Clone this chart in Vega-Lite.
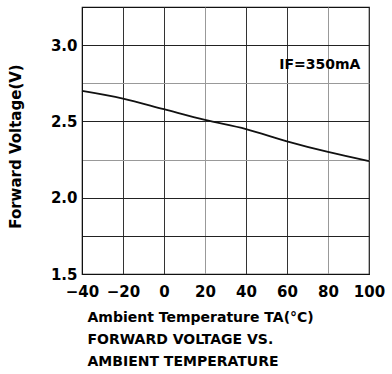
{
  "$schema": "https://vega.github.io/schema/vega-lite/v6.json",
  "width": 287,
  "height": 267,
  "autosize": {"type": "none"},
  "padding": {"left": 82, "top": 7, "right": 23, "bottom": 100},
  "background": "white",
  "config": {
    "font": "DejaVu Sans",
    "view": {"stroke": "#111", "strokeWidth": 1.2},
    "axis": {
      "labelFont": "DejaVu Sans",
      "labelFontWeight": "bold",
      "labelFontSize": 15,
      "labelColor": "#000",
      "titleFont": "DejaVu Sans",
      "titleFontWeight": "bold",
      "titleColor": "#000",
      "ticks": false,
      "domainColor": "#111",
      "gridOpacity": 1,
      "gridWidth": 1
    }
  },
  "layer": [
    {
      "data": {
        "values": [
          {"ta": -40, "vf": 2.70},
          {"ta": -20, "vf": 2.65},
          {"ta": 0, "vf": 2.58},
          {"ta": 20, "vf": 2.51},
          {"ta": 40, "vf": 2.45},
          {"ta": 60, "vf": 2.37},
          {"ta": 80, "vf": 2.30},
          {"ta": 100, "vf": 2.24}
        ]
      },
      "mark": {"type": "line", "color": "#111", "strokeWidth": 1.8, "interpolate": "monotone"},
      "encoding": {
        "x": {
          "field": "ta",
          "type": "quantitative",
          "scale": {"domain": [-40, 100], "nice": false},
          "axis": {
            "values": [-40, -20, 0, 20, 40, 60, 80, 100],
            "grid": true,
            "gridColor": {"condition": {"test": "datum.value === 20 || datum.value === 80", "value": "#999"}, "value": "#333"},
            "labelPadding": 10,
            "labelFlush": false,
            "title": ["Ambient Temperature TA(°C)", "FORWARD VOLTAGE VS.", "AMBIENT TEMPERATURE"],
            "titleFontSize": 14,
            "titleAnchor": "start",
            "titleAlign": "left",
            "titleX": 5,
            "titleLineHeight": 22,
            "titlePadding": 11
          }
        },
        "y": {
          "field": "vf",
          "type": "quantitative",
          "scale": {"domain": [1.5, 3.25], "nice": false, "zero": false},
          "axis": {
            "values": [1.5, 1.75, 2.0, 2.25, 2.5, 2.75, 3.0],
            "grid": true,
            "gridColor": {"condition": {"test": "datum.value === 2.75 || datum.value === 2.25", "value": "#999"}, "value": "#222"},
            "labelExpr": "datum.value * 4 % 2 === 0 ? format(datum.value, '.1f') : ''",
            "labelPadding": 5,
            "labelFlush": false,
            "title": "Forward Voltage(V)",
            "titleFontSize": 15,
            "titleY": 139,
            "titlePadding": 27
          }
        }
      }
    },
    {
      "data": {"values": [{"ta": 76, "vf": 2.868, "label": "IF=350mA"}]},
      "mark": {"type": "text", "font": "DejaVu Sans", "fontWeight": "bold", "fontSize": 14, "color": "#000"},
      "encoding": {
        "x": {"field": "ta", "type": "quantitative"},
        "y": {"field": "vf", "type": "quantitative"},
        "text": {"field": "label"}
      }
    }
  ]
}
